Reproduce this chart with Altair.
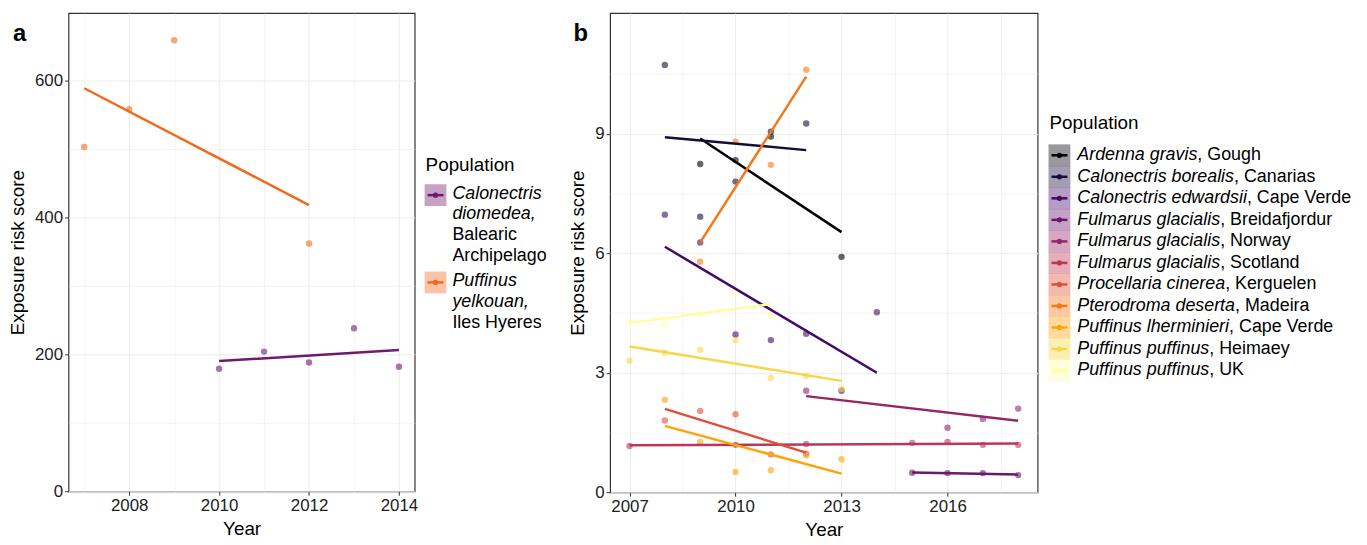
import altair as alt
import pandas as pd
import textwrap

FONT = "Liberation Sans"

# ---------------- Panel a data ----------------
pops_a = ["Calonectris diomedea, Balearic Archipelago", "Puffinus yelkouan, Iles Hyeres"]
species_a = ["Calonectris diomedea", "Puffinus yelkouan"]
locations_a = ["Balearic Archipelago", "Iles Hyeres"]
colors_a = ["#701A6E", "#F26A1E"]
cd_years = [2010, 2011, 2012, 2013, 2014]
cd_scores = [179, 204, 188, 238, 182]
py_years = [2007, 2008, 2009, 2012]
py_scores = [503, 558, 659, 362]

# ---------------- Panel b data ----------------
species_b = ["Ardenna gravis", "Calonectris borealis", "Calonectris edwardsii",
             "Fulmarus glacialis", "Fulmarus glacialis", "Fulmarus glacialis",
             "Procellaria cinerea", "Pterodroma deserta", "Puffinus lherminieri",
             "Puffinus puffinus", "Puffinus puffinus"]
locations_b = ["Gough", "Canarias", "Cape Verde", "Breidafjordur", "Norway", "Scotland",
               "Kerguelen", "Madeira", "Cape Verde", "Heimaey", "UK"]
colors_b = ["#000004", "#160B39", "#420A68", "#6A176E", "#932667", "#BC3754",
            "#DD513A", "#F37819", "#FCA50A", "#F6D746", "#FCFFA4"]

ag_years = [2009, 2010, 2011, 2013]
ag_scores = [8.24, 8.34, 8.93, 5.91]
cb_years = [2008, 2009, 2010, 2011, 2012]
cb_scores = [10.73, 6.92, 7.80, 9.05, 9.26]
ce_years = [2008, 2009, 2010, 2011, 2012, 2013, 2014]
ce_scores = [6.97, 6.27, 3.96, 3.82, 3.98, 2.55, 4.52]
fb_years = [2015, 2016, 2017, 2018]
fb_scores = [0.49, 0.48, 0.48, 0.43]
fn_years = [2012, 2016, 2017, 2018]
fn_scores = [2.55, 1.62, 1.84, 2.10]
fs_years = [2007, 2010, 2012, 2015, 2016, 2017, 2018]
fs_scores = [1.16, 1.19, 1.21, 1.24, 1.26, 1.19, 1.19]
pc_years = [2008, 2009, 2010, 2011, 2012]
pc_scores = [1.80, 2.04, 1.96, 0.95, 0.97]
pd_years = [2009, 2010, 2011, 2012]
pd_scores = [5.79, 8.80, 8.22, 10.61]
pl_years = [2008, 2009, 2010, 2011, 2012, 2013]
pl_scores = [2.32, 1.26, 0.51, 0.55, 0.93, 0.83]
ph_years = [2007, 2008, 2009, 2010, 2011, 2012, 2013]
ph_scores = [3.30, 3.51, 3.58, 3.82, 2.87, 2.92, 2.59]
pu_years = [2007, 2008, 2009, 2010, 2011]
pu_scores = [4.26, 4.21, 4.48, 5.04, 4.44]

years_b = [ag_years, cb_years, ce_years, fb_years, fn_years, fs_years,
           pc_years, pd_years, pl_years, ph_years, pu_years]
scores_b = [ag_scores, cb_scores, ce_scores, fb_scores, fn_scores, fs_scores,
            pc_scores, pd_scores, pl_scores, ph_scores, pu_scores]
pops_b = [f"{s}, {l}" for s, l in zip(species_b, locations_b)]

# ---------------- tables ----------------
rows_a = []
for p, ys, ss in zip(pops_a, [cd_years, py_years], [cd_scores, py_scores]):
    for y, s in zip(ys, ss):
        rows_a.append({"popa": p, "year": y, "score": s})
df_a = pd.DataFrame(rows_a)

rows_b = []
for p, ys, ss in zip(pops_b, years_b, scores_b):
    for y, s in zip(ys, ss):
        rows_b.append({"popb": p, "year": y, "score": s})
df_b = pd.DataFrame(rows_b)

# Arial / Liberation Sans advance widths (per 1000 em)
CW = {" ": 278, ",": 278, "A": 667, "B": 667, "C": 722, "F": 611, "G": 778, "H": 722,
      "I": 278, "K": 667, "M": 833, "N": 722, "P": 667, "S": 667, "U": 722, "V": 667,
      "a": 556, "b": 556, "c": 500, "d": 556, "e": 556, "f": 278, "g": 556, "h": 556,
      "i": 222, "j": 222, "k": 500, "l": 222, "m": 833, "n": 556, "o": 556, "p": 556,
      "q": 556, "r": 333, "s": 500, "t": 278, "u": 556, "v": 500, "w": 722, "x": 500,
      "y": 500, "z": 500}


def text_width(s, size):
    return sum(CW.get(c, 556) for c in s) * size / 1000.0


def major_axis(values, test, title, fmt):
    return alt.Axis(
        values=values, title=title, format=fmt,
        labelExpr=f"({test}) ? datum.label : ''",
        gridWidth={"condition": {"test": test, "value": 1.0}, "value": 0.6},
        tickOpacity={"condition": {"test": test, "value": 1}, "value": 0},
    )


def panel(df, field, pops, colors, xdom, ydom, xvals, xtest, yvals, ytest, w, h, letter, letter_x):
    color = alt.Color(f"{field}:N", scale=alt.Scale(domain=pops, range=colors), legend=None)
    x = alt.X("year:Q", scale=alt.Scale(domain=xdom, nice=False, zero=False),
              axis=major_axis(xvals, xtest, "Year", "d"))
    y = alt.Y("score:Q", scale=alt.Scale(domain=ydom, nice=False, zero=False),
              axis=major_axis(yvals, ytest, "Exposure risk score", "d"))
    base = alt.Chart(df).encode(x=x, y=y, color=color)
    pts = base.mark_circle(size=42, opacity=0.6)
    lines = base.transform_regression("year", "score", groupby=[field]).mark_line(strokeWidth=2.5)
    lab = alt.Chart(pd.DataFrame({"lab": [letter]})).mark_text(
        font=FONT, fontSize=24, fontWeight="bold", align="left", baseline="middle"
    ).encode(text="lab:N", x=alt.value(letter_x), y=alt.value(21))
    return alt.layer(pts, lines, lab).properties(width=w, height=h)


chart_a = panel(df_a, "popa", pops_a, colors_a, [2006.65, 2014.35], [0, 698.5],
                list(range(2007, 2015)), "datum.value % 2 === 0",
                [0, 100, 200, 300, 400, 500, 600], "datum.value % 200 === 0",
                349, 482, "a", -56)

chart_b = panel(df_b, "popb", pops_b, colors_b, [2006.45, 2018.55], [0, 12.03],
                [2007 + 1.5 * i for i in range(8)], "(datum.value - 2007) % 3 === 0",
                [1.5 * i for i in range(8)], "datum.value % 3 === 0",
                431, 483, "b", -37)


# ---------------- manual legends ----------------
def legend_chart(field, keys, texts, title_y, w, h, pops, colors):
    xs = alt.Scale(domain=[0, w], range=[0, w], nice=False, zero=False)
    ys = alt.Scale(domain=[0, h], range=[0, h], nice=False, zero=False)
    cscale = alt.Scale(domain=pops, range=colors)
    kdf = pd.DataFrame(keys)
    tdf = pd.DataFrame(texts)
    X = lambda f: alt.X(f, scale=xs, axis=None)
    Y = lambda f: alt.Y(f, scale=ys, axis=None)
    C = alt.Color(f"{field}:N", scale=cscale, legend=None)
    sq = alt.Chart(kdf).mark_square(size=484, opacity=0.4).encode(x=alt.value(11), y=Y("ky:Q"), color=C)
    rl = alt.Chart(kdf).mark_rule(strokeWidth=2.5).encode(x=alt.value(3), x2=alt.value(19), y=Y("ky:Q"), color=C)
    dt = alt.Chart(kdf).mark_circle(size=28, opacity=1).encode(x=alt.value(11), y=Y("ky:Q"), color=C)
    it = alt.Chart(tdf).transform_filter("datum.italic").mark_text(
        font=FONT, fontSize=18, fontStyle="italic", align="left", baseline="middle", color="black"
    ).encode(x=X("tx:Q"), y=Y("ty:Q"), text="txt:N")
    nt = alt.Chart(tdf).transform_filter("!datum.italic").mark_text(
        font=FONT, fontSize=18, align="left", baseline="middle", color="black"
    ).encode(x=X("tx:Q"), y=Y("ty:Q"), text="txt:N")
    tt = alt.Chart(pd.DataFrame({"t": ["Population"]})).mark_text(
        font=FONT, fontSize=19, align="left", baseline="middle", color="black"
    ).encode(x=alt.value(1), y=alt.value(title_y), text="t:N")
    return alt.layer(sq, rl, dt, it, nt, tt).properties(
        width=w, height=h, view=alt.ViewBackground(stroke="transparent"))


# legend a: wrapped labels
LINE_H = 21
keys_a, texts_a = [], []
top = 173
for p, sp, loc in zip(pops_a, species_a, locations_a):
    sp_lines = textwrap.wrap(sp + ",", 11)
    loc_lines = textwrap.wrap(loc, 11)
    keys_a.append({"popa": p, "ky": top + 10.5})
    j = 0
    for ln in sp_lines:
        texts_a.append({"txt": ln, "tx": 28, "ty": top + 9 + j * LINE_H, "italic": True})
        j += 1
    for ln in loc_lines:
        texts_a.append({"txt": ln, "tx": 28, "ty": top + 9 + j * LINE_H, "italic": False})
        j += 1
    top += j * LINE_H + 4

legend_a = legend_chart("popa", keys_a, texts_a, 153, 128, 482, pops_a, colors_a)

# legend b: one line per population
keys_b, texts_b = [], []
ROW_H = 21.7
for i, (p, sp, loc) in enumerate(zip(pops_b, species_b, locations_b)):
    cy = 143.3 + i * ROW_H
    keys_b.append({"popb": p, "ky": cy})
    texts_b.append({"txt": sp, "tx": 29, "ty": cy, "italic": True})
    texts_b.append({"txt": ", " + loc, "tx": 29 + text_width(sp, 18), "ty": cy, "italic": False})

legend_b = legend_chart("popb", keys_b, texts_b, 111, 312, 483, pops_b, colors_b)

left = alt.hconcat(chart_a, legend_a, spacing=5)
right = alt.hconcat(chart_b, legend_b, spacing=9)

chart = alt.hconcat(left, right, spacing=15).resolve_scale(color="independent").properties(
    padding={"left": 0, "top": 2, "right": 0, "bottom": 0}
).configure_axis(
    labelFont=FONT, labelFontSize=17, labelColor="#222222", labelPadding=2,
    titleFont=FONT, titleFontSize=19, titleFontWeight="normal", titleColor="black",
    titlePadding=7, tickColor="#333333", tickSize=4, tickWidth=1,
    gridColor="#EBEBEB", domain=False,
).configure_view(stroke="#333333", strokeWidth=1.2)

chart.save("out.html", embed_options={"renderer": "svg", "actions": False})
